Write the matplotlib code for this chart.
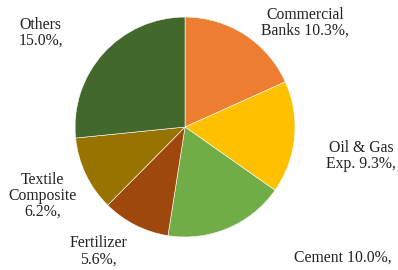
import matplotlib.pyplot as plt

sectors = ['Commercial Banks', 'Oil & Gas Exp.', 'Cement', 'Fertilizer',
           'Textile Composite', 'Others']
shares = [10.3, 9.3, 10.0, 5.6, 6.2, 15.0]
colors = ['#ED7D31', '#FFC000', '#70AD47', '#9E480E', '#997300', '#43682B']
label_texts = ['Commercial\nBanks 10.3%,', 'Oil & Gas\nExp. 9.3%,', 'Cement 10.0%,',
               'Fertilizer\n5.6%,', 'Textile\nComposite\n6.2%,', 'Others\n15.0%,']
# label centres in data units (pie radius = 1)
label_pos = [(1.09, 0.95), (1.60, -0.264), (1.436, -1.19),
             (-0.786, -1.13), (-1.295, -0.627), (-1.314, 0.855)]

fig = plt.figure(figsize=(3.98, 2.70), dpi=100)
ax = fig.add_axes([0, 0, 1, 1])

ax.pie(shares, colors=colors, startangle=90, counterclock=False, radius=1,
       wedgeprops=dict(edgecolor='white', linewidth=0.4))

for txt, (x, y) in zip(label_texts, label_pos):
    ax.text(x, y, txt, ha='center', va='center', fontsize=11.3,
            family='Liberation Serif', color='#222222', linespacing=1.0)

ax.set_xlim(-1.682, 1.936)
ax.set_ylim(-1.30, 1.155)
ax.set_aspect('equal')
ax.axis('off')

fig.savefig('out.png', dpi=100)
